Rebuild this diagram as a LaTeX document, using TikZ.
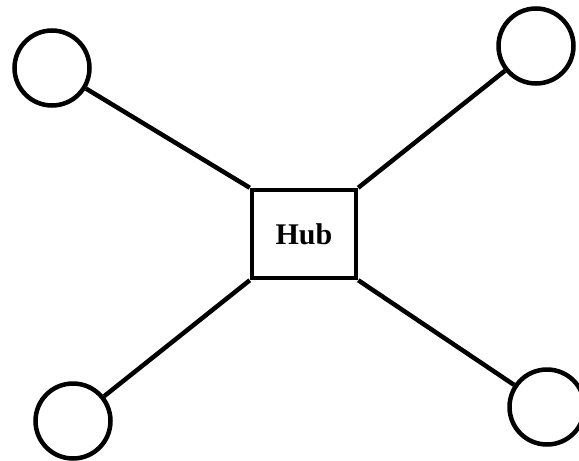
\documentclass[tikz,border=0pt]{standalone}
\usepackage{fontspec}
\setmainfont{Liberation Serif}
\begin{document}
\begin{tikzpicture}[x=1pt,y=-1pt,
  every path/.style={line width=4.5pt},
  leaf/.style={circle,draw=black,line width=4.5pt,minimum size=75pt,inner sep=0pt},
  hub/.style={rectangle,draw=black,line width=4.5pt,minimum width=104pt,minimum height=88pt,inner sep=0pt,font=\bfseries\fontsize{30}{30}\selectfont},
  link/.style={draw=black,line width=4.5pt}]
\useasboundingbox[fill=white] (0,0) rectangle (579,461);
\node[hub] (h) at (304,234) {Hub};
\node[leaf] (tl) at (52,68) {};
\node[leaf] (tr) at (536,46) {};
\node[leaf] (bl) at (73,421) {};
\node[leaf] (br) at (547,407) {};
\draw[link] (h.north west) -- (tl);
\draw[link] (h.north east) -- (tr);
\draw[link] (h.south west) -- (bl);
\draw[link] (h.south east) -- (br);
\end{tikzpicture}
\end{document}
